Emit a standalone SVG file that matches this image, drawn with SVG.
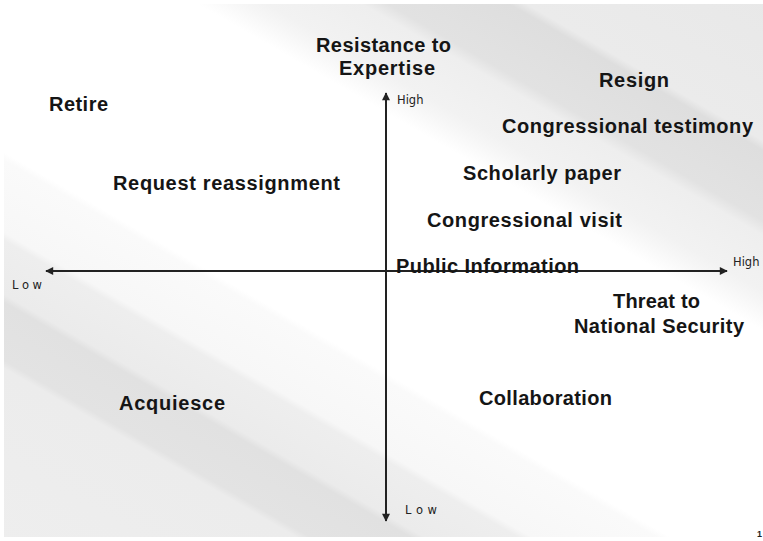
<svg xmlns="http://www.w3.org/2000/svg" width="763" height="541" viewBox="0 0 763 541">
  <style>
    .lbl { font-family: "Liberation Sans", Arial, sans-serif; font-weight: bold; font-size: 20px; fill: #151515; }
    .tick { font-family: "DejaVu Sans", "Liberation Sans", sans-serif; font-size: 11.5px; fill: #222; }
    .axis { stroke: #222; stroke-width: 2; fill: none; marker-start: url(#arrow); marker-end: url(#arrow); }
  </style>
  <defs>
    <linearGradient id="bg" gradientUnits="userSpaceOnUse" x1="194.9" y1="-337.5" x2="-238.2" y2="412.5">
      <stop offset="0" stop-color="#e8e8e8"/>
      <stop offset="0.15" stop-color="#ebebeb"/>
      <stop offset="0.16" stop-color="#dedede"/>
      <stop offset="0.23" stop-color="#e2e2e2"/>
      <stop offset="0.245" stop-color="#eeeeee"/>
      <stop offset="0.30" stop-color="#f2f2f2"/>
      <stop offset="0.314" stop-color="#f6f6f6"/>
      <stop offset="0.34" stop-color="#ffffff"/>
      <stop offset="0.60" stop-color="#ffffff"/>
      <stop offset="0.608" stop-color="#fafafa"/>
      <stop offset="0.68" stop-color="#f7f7f7"/>
      <stop offset="0.688" stop-color="#eeeeee"/>
      <stop offset="0.742" stop-color="#ebebeb"/>
      <stop offset="0.75" stop-color="#e1e1e1"/>
      <stop offset="0.808" stop-color="#e3e3e3"/>
      <stop offset="0.816" stop-color="#ececec"/>
      <stop offset="1" stop-color="#eeeeee"/>
    </linearGradient>
    <marker id="arrow" viewBox="0 0 10 10" refX="9" refY="5" markerWidth="4.5" markerHeight="4" orient="auto-start-reverse" markerUnits="strokeWidth">
      <path d="M0,0 L10,5 L0,10 Z" fill="#222"/>
    </marker>
  </defs>

  <rect x="0" y="0" width="763" height="541" fill="#ffffff"/>
  <rect x="4" y="4" width="759" height="533" fill="url(#bg)"/>

  <g id="connectors">
    <line id="y-axis" class="axis" x1="386" y1="521" x2="386" y2="93"/>
    <line id="x-axis" class="axis" x1="46" y1="271" x2="727" y2="271"/>
  </g>

  <g id="axis-labels">
    <g id="y-title">
      <text class="lbl" x="316" y="52" textLength="135" lengthAdjust="spacing">Resistance to</text>
      <text class="lbl" x="339" y="75" textLength="96" lengthAdjust="spacing">Expertise</text>
    </g>
    <g id="x-title">
      <text class="lbl" x="613" y="308" textLength="87" lengthAdjust="spacing">Threat to</text>
      <text class="lbl" x="574" y="333" textLength="170" lengthAdjust="spacing">National Security</text>
    </g>
    <text id="y-high" class="tick" x="397" y="104">High</text>
    <text id="y-low" class="tick" x="405" y="514" textLength="32" lengthAdjust="spacing">Low</text>
    <text id="x-high" class="tick" x="733" y="266">High</text>
    <text id="x-low" class="tick" x="12" y="289" textLength="30" lengthAdjust="spacing">Low</text>
  </g>

  <g id="node-retire"><text class="lbl" x="49" y="111" textLength="59" lengthAdjust="spacing">Retire</text></g>
  <g id="node-resign"><text class="lbl" x="599" y="87" textLength="70" lengthAdjust="spacing">Resign</text></g>
  <g id="node-testimony"><text class="lbl" x="502" y="133" textLength="251" lengthAdjust="spacing">Congressional testimony</text></g>
  <g id="node-paper"><text class="lbl" x="463" y="180" textLength="158" lengthAdjust="spacing">Scholarly paper</text></g>
  <g id="node-reassignment"><text class="lbl" x="113" y="190" textLength="227" lengthAdjust="spacing">Request reassignment</text></g>
  <g id="node-visit"><text class="lbl" x="427" y="227" textLength="195" lengthAdjust="spacing">Congressional visit</text></g>
  <g id="node-public"><text class="lbl" x="396" y="273" textLength="183" lengthAdjust="spacing">Public Information</text></g>
  <g id="node-acquiesce"><text class="lbl" x="119" y="410" textLength="106" lengthAdjust="spacing">Acquiesce</text></g>
  <g id="node-collaboration"><text class="lbl" x="479" y="405" textLength="133" lengthAdjust="spacing">Collaboration</text></g>

  <text id="page-number" x="757" y="537" font-family="Liberation Sans, sans-serif" font-weight="bold" font-size="9" fill="#222">1</text>
</svg>
